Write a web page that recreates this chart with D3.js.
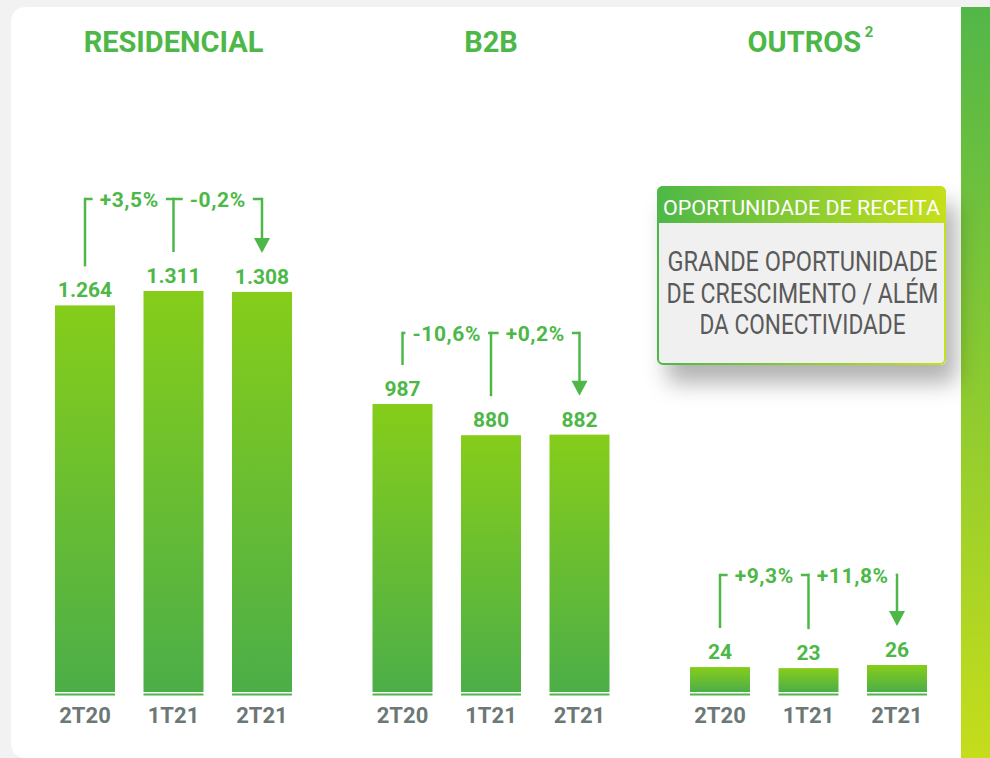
<!DOCTYPE html>
<html><head><meta charset="utf-8">
<script src="https://cdn.jsdelivr.net/npm/d3@7"></script>
<style>
html,body{margin:0;padding:0;background:#f2f2f2;}
svg{display:block;}
text{font-family:Roboto,"Noto Sans",sans-serif;}
</style></head>
<body>
<svg id="chart" width="990" height="758"></svg>
<script>
// ---- data ----
const categories = ["2T20", "1T21", "2T21"];
const segments = ["RESIDENCIAL", "B2B", "OUTROS"];
const residencialValues = [1264, 1311, 1308];
const b2bValues = [987, 880, 882];
const outrosValues = [24, 23, 26];
const residencialChanges = ["+3,5%", "-0,2%"];
const b2bChanges = ["-10,6%", "+0,2%"];
const outrosChanges = ["+9,3%", "+11,8%"];
const boxHeader = "OPORTUNIDADE DE RECEITA";
const boxLines = ["GRANDE OPORTUNIDADE", "DE CRESCIMENTO / ALÉM", "DA CONECTIVIDADE"];

const seriesValues = [residencialValues, b2bValues, outrosValues];
const seriesChanges = [residencialChanges, b2bChanges, outrosChanges];

// ---- layout ----
const W = 990, H = 758;
const baseY = 692;
const panelLeft = [55, 372.5, 690];
const panelSpan = 237;
const panelTopPx = [291, 404, 665];
const connectorY = [199, 333, 575];
const GREEN = "#4db848";
const GREY = "#6c7875";

const locale = d3.formatLocale({decimal: ",", thousands: ".", grouping: [3], currency: ["", ""]});
const fmt = locale.format(",d");

const svg = d3.select("#chart");
const defs = svg.append("defs");

const gBar = defs.append("linearGradient").attr("id", "barGrad").attr("x1", 0).attr("y1", 0).attr("x2", 0).attr("y2", 1);
gBar.append("stop").attr("offset", 0).attr("stop-color", "#86cd1a");
gBar.append("stop").attr("offset", 1).attr("stop-color", "#4cae48");

const gStripe = defs.append("linearGradient").attr("id", "stripeGrad").attr("x1", 0).attr("y1", 0).attr("x2", 0).attr("y2", 1);
gStripe.append("stop").attr("offset", 0).attr("stop-color", "#52b748");
gStripe.append("stop").attr("offset", 1).attr("stop-color", "#c5dd1b");

const gHead = defs.append("linearGradient").attr("id", "headGrad").attr("x1", 0).attr("y1", 0).attr("x2", 1).attr("y2", 0);
gHead.append("stop").attr("offset", 0).attr("stop-color", "#4db848");
gHead.append("stop").attr("offset", 1).attr("stop-color", "#c6df1b");

const shadow = defs.append("filter").attr("id", "shadow").attr("x", "-30%").attr("y", "-30%").attr("width", "170%").attr("height", "180%");
shadow.append("feDropShadow").attr("dx", 10).attr("dy", 18).attr("stdDeviation", 11).attr("flood-color", "#000").attr("flood-opacity", 0.3);

// background & card
svg.append("rect").attr("width", W).attr("height", H).attr("fill", "#f2f2f2");
const cl = 11, ct = 7, cr = 961, cb = 758, r = 16;
svg.append("path")
  .attr("d", `M${cl + r},${ct} H${cr} V${cb} H${cl + r} Q${cl},${cb} ${cl},${cb - r} V${ct + r} Q${cl},${ct} ${cl + r},${ct} Z`)
  .attr("fill", "#fff");
svg.append("rect").attr("x", 961).attr("y", 7).attr("width", 29).attr("height", H - 7).attr("fill", "url(#stripeGrad)");

// panels
segments.forEach((seg, i) => {
  const values = seriesValues[i];
  const changes = seriesChanges[i];
  const x = d3.scaleBand().domain(categories).range([panelLeft[i], panelLeft[i] + panelSpan])
    .paddingInner(0.322).paddingOuter(0);
  const y = d3.scaleLinear().domain([0, d3.max(values)]).range([baseY, panelTopPx[i]]);
  const g = svg.append("g");
  const cx = c => x(c) + x.bandwidth() / 2;
  const centerX = panelLeft[i] + panelSpan / 2;

  // title
  const t = g.append("text").attr("x", centerX + (i === 2 ? 2 : 0)).attr("y", 52)
    .attr("text-anchor", "middle").attr("fill", GREEN).attr("font-weight", 700)
    .attr("font-size", 29).text(seg);
  if (i === 2) {
    t.append("tspan").attr("font-size", 15).attr("dy", -15).text(" 2");
  }

  // bars
  g.selectAll("rect.bar").data(values).join("rect").attr("class", "bar")
    .attr("x", (d, j) => x(categories[j])).attr("width", x.bandwidth())
    .attr("y", d => y(d)).attr("height", d => baseY - y(d))
    .attr("fill", "url(#barGrad)");
  // baseline underline
  g.selectAll("rect.base").data(categories).join("rect").attr("class", "base")
    .attr("x", c => x(c)).attr("width", x.bandwidth())
    .attr("y", baseY + 1.5).attr("height", 2).attr("fill", GREEN);

  // value labels
  g.selectAll("text.val").data(values).join("text").attr("class", "val")
    .attr("x", (d, j) => cx(categories[j])).attr("y", d => y(d) - 8)
    .attr("text-anchor", "middle").attr("fill", GREEN).attr("font-weight", 700)
    .attr("font-size", 21).text(d => fmt(d));

  // category labels
  g.selectAll("text.cat").data(categories).join("text").attr("class", "cat")
    .attr("x", c => cx(c)).attr("y", 723)
    .attr("text-anchor", "middle").attr("fill", GREY).attr("font-weight", 700)
    .attr("font-size", 22).text(c => c);

  // connectors
  const cy = connectorY[i];
  const gap = 39;
  const xs = categories.map(cx);
  const ends = values.map(v => y(v) - gap);
  const lc = g.append("g").attr("stroke", GREEN).attr("stroke-width", 2.5).attr("fill", "none");
  lc.append("line").attr("x1", xs[0]).attr("x2", xs[2]).attr("y1", cy).attr("y2", cy);
  lc.append("line").attr("x1", xs[0]).attr("x2", xs[0]).attr("y1", cy - 1.25).attr("y2", ends[0]);
  lc.append("line").attr("x1", xs[1]).attr("x2", xs[1]).attr("y1", cy - 1.25).attr("y2", ends[1]);
  lc.append("line").attr("x1", xs[2]).attr("x2", xs[2]).attr("y1", cy - 1.25).attr("y2", ends[2] - 13);
  g.append("path")
    .attr("d", `M${xs[2] - 8},${ends[2] - 15} L${xs[2] + 8},${ends[2] - 15} L${xs[2]},${ends[2]} Z`)
    .attr("fill", GREEN);

  changes.forEach((c, k) => {
    const mx = (xs[k] + xs[k + 1]) / 2;
    const txt = g.append("text").attr("x", mx).attr("y", cy + 8)
      .attr("text-anchor", "middle").attr("fill", GREEN).attr("font-weight", 700)
      .attr("font-size", 21).attr("letter-spacing", 0.6).text(c);
    const bb = txt.node().getBBox();
    g.insert("rect", () => txt.node())
      .attr("x", bb.x - 7).attr("y", cy - 3).attr("width", bb.width + 14).attr("height", 6)
      .attr("fill", "#fff");
  });
});

// opportunity box
const bx = 657, by = 186, bw = 289, hh = 37, bh = 179;
const box = svg.append("g");
box.append("rect").attr("x", bx).attr("y", by).attr("width", bw).attr("height", bh).attr("rx", 6)
  .attr("fill", "#f0f0f0").attr("filter", "url(#shadow)");
box.append("rect").attr("x", bx + 1).attr("y", by + 1).attr("width", bw - 2).attr("height", bh - 2).attr("rx", 5)
  .attr("fill", "#f0f0f0").attr("stroke", "url(#headGrad)").attr("stroke-width", 2);
box.append("path")
  .attr("d", `M${bx},${by + hh} V${by + 7} Q${bx},${by} ${bx + 7},${by} H${bx + bw - 7} Q${bx + bw},${by} ${bx + bw},${by + 7} V${by + hh} Z`)
  .attr("fill", "url(#headGrad)");
box.append("text").attr("x", bx + bw / 2).attr("y", by + 29).attr("text-anchor", "middle")
  .attr("fill", "#fff").attr("font-size", 21).attr("textLength", 277).attr("lengthAdjust", "spacingAndGlyphs")
  .text(boxHeader);
const lineWidths = [270, 272, 206];
box.selectAll("text.bl").data(boxLines).join("text").attr("class", "bl")
  .attr("x", bx + bw / 2 + 1).attr("y", (d, k) => 271 + k * 31.5).attr("text-anchor", "middle")
  .attr("fill", "#5a5a5a").attr("font-size", 27)
  .attr("textLength", (d, k) => lineWidths[k]).attr("lengthAdjust", "spacingAndGlyphs")
  .text(d => d);
</script>
</body></html>
